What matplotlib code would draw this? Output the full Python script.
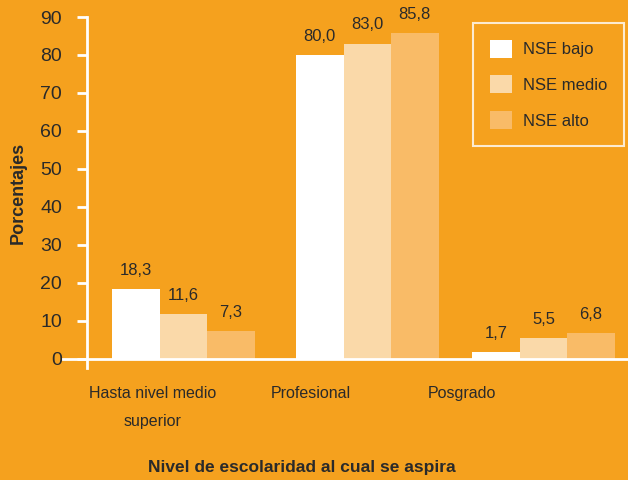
import numpy as np
import matplotlib.pyplot as plt

# aspiraciones escolares por nivel socioeconomico (%)
categorias = ["Hasta nivel medio\nsuperior", "Profesional", "Posgrado"]
series = ["NSE bajo", "NSE medio", "NSE alto"]
nse_bajo = [18.3, 80.0, 1.7]
nse_medio = [11.6, 83.0, 5.5]
nse_alto = [7.3, 85.8, 6.8]
yticks = [0, 10, 20, 30, 40, 50, 60, 70, 80, 90]

fondo = "#F5A11E"
colores = ["#FFFFFF", "#FAD9A9", "#F9BB67"]
tinta = "#2a2a2a"

plt.rcParams["font.family"] = ["Liberation Sans", "DejaVu Sans"]

# posiciones en unidades de ancho de barra
ancho = 1.0
centros = np.array([2.03, 5.90, 9.61])
pos_etiquetas = np.array([1.38, 4.72, 7.89])

fig = plt.figure(figsize=(6.28, 4.8), dpi=100, facecolor=fondo)
ax = fig.add_axes([87 / 628, 1 - 368 / 480, 541 / 628, (368 - 17) / 480])
ax.set_facecolor(fondo)

for i, (vals, col, nom) in enumerate(zip([nse_bajo, nse_medio, nse_alto], colores, series)):
    x = centros + (i - 1) * ancho
    ax.bar(x, vals, width=ancho, color=col, label=nom, linewidth=0, zorder=2)
    for xi, v in zip(x, vals):
        ax.annotate(f"{v:.1f}".replace(".", ","), (xi, v), xytext=(0, 8),
                    textcoords="offset points", ha="center", va="bottom",
                    fontsize=12, color=tinta)

ax.set_xlim(0, 541 / 47.5)
ax.set_ylim(-2.5, 90)
ax.set_yticks(yticks)
ax.set_yticklabels([str(t) for t in yticks], fontsize=14, color=tinta)
ax.tick_params(axis="y", length=7, width=2, color="white", pad=11)

ax.set_xticks(pos_etiquetas)
ax.set_xticklabels(categorias, fontsize=11.5, color=tinta, linespacing=2.1)
ax.tick_params(axis="x", length=0, pad=13)

for s in ["top", "right", "bottom"]:
    ax.spines[s].set_visible(False)
ax.spines["left"].set_color("white")
ax.spines["left"].set_linewidth(2)

# linea base en cero, prolongada a la izquierda del eje
ax.axhline(0, xmin=-0.045, xmax=1, color="white", lw=2, clip_on=False, zorder=3)

ax.set_ylabel("Porcentajes", fontsize=13, fontweight="bold", color=tinta)
ax.yaxis.set_label_coords(-0.112, 0.5)
ax.set_xlabel("Nivel de escolaridad al cual se aspira", fontsize=12.5,
              fontweight="bold", color=tinta)
ax.xaxis.set_label_coords(0.397, -0.262)

leg = ax.legend(loc="upper right", bbox_to_anchor=(0.993, 0.983), frameon=True,
                fancybox=False, fontsize=12, handlelength=1.3, handleheight=1.3,
                handletextpad=0.7, labelspacing=1.05, borderpad=1.0,
                borderaxespad=0)
leg.get_frame().set_facecolor(fondo)
leg.get_frame().set_edgecolor("white")
leg.get_frame().set_linewidth(1.5)
for t in leg.get_texts():
    t.set_color(tinta)

fig.savefig("out.png", dpi=100, facecolor=fondo)
